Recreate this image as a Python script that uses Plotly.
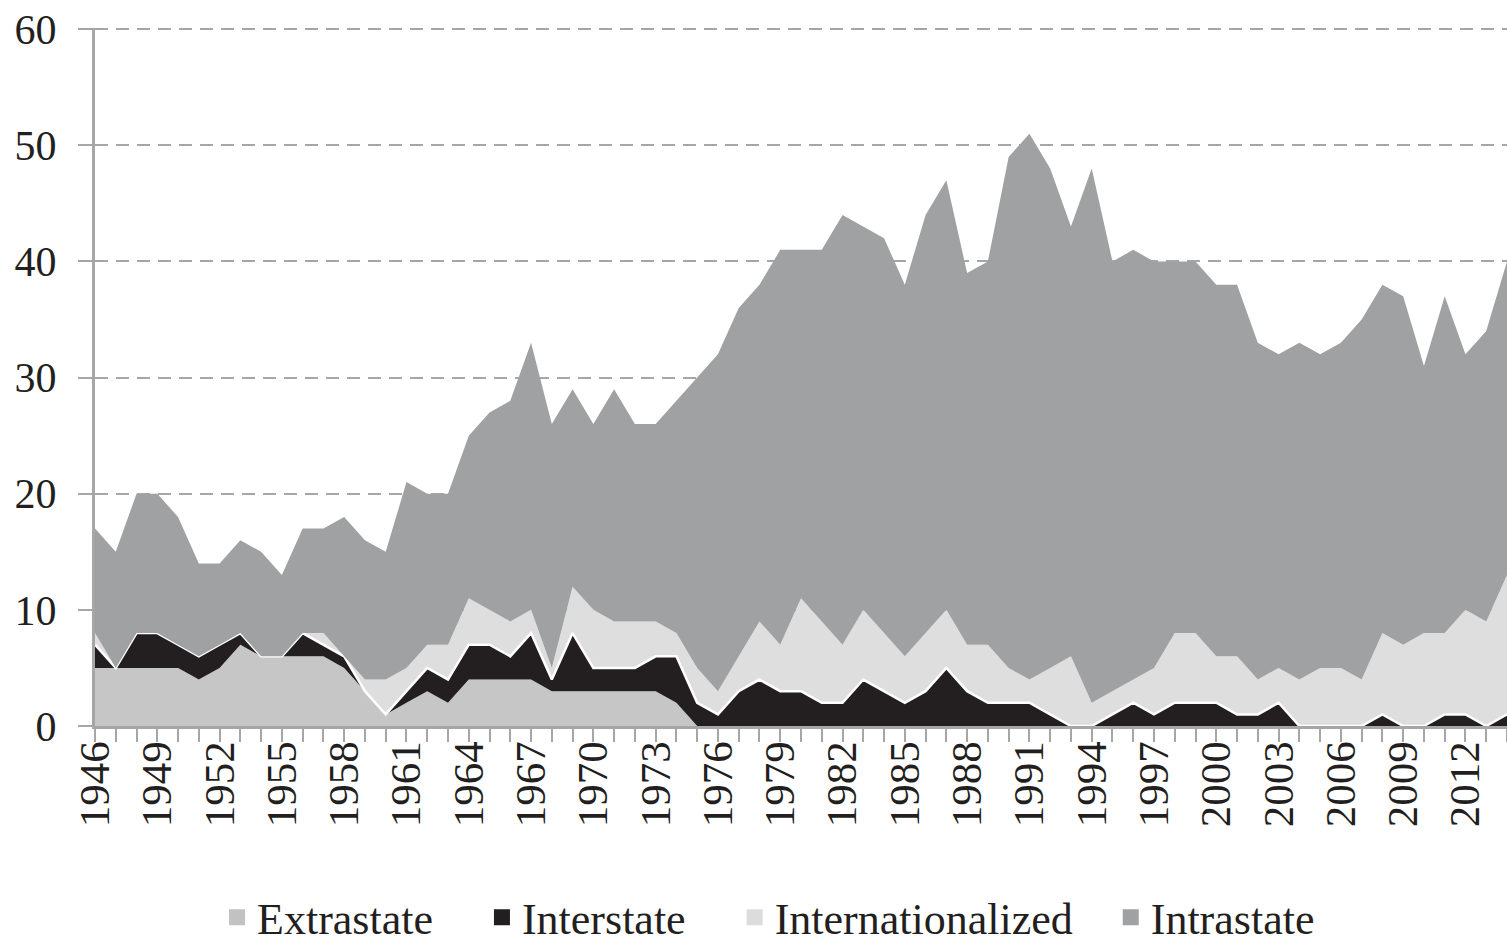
import plotly.graph_objects as go

years = list(range(1946, 2015))

total = [17, 15, 20, 20, 18, 14, 14, 16, 15, 13,
         17, 17, 18, 16, 15, 21, 20, 20, 25, 27,
         28, 33, 26, 29, 26, 29, 26, 26, 28, 30,
         32, 36, 38, 41, 41, 41, 44, 43, 42, 38,
         44, 47, 39, 40, 49, 51, 48, 43, 48, 40,
         41, 40, 40, 40, 38, 38, 33, 32, 33, 32,
         33, 35, 38, 37, 31, 37, 32, 34, 40]

extrastate = [5, 5, 5, 5, 5, 4, 5, 7, 6, 6,
              6, 6, 5, 3, 1, 2, 3, 2, 4, 4,
              4, 4, 3, 3, 3, 3, 3, 3, 2, 0,
              0, 0, 0, 0, 0, 0, 0, 0, 0, 0,
              0, 0, 0, 0, 0, 0, 0, 0, 0, 0,
              0, 0, 0, 0, 0, 0, 0, 0, 0, 0,
              0, 0, 0, 0, 0, 0, 0, 0, 0]

interstate = [2, 0, 3, 3, 2, 2, 2, 1, 0, 0,
              2, 1, 1, 0, 0, 1, 2, 2, 3, 3,
              2, 4, 1, 5, 2, 2, 2, 3, 4, 2,
              1, 3, 4, 3, 3, 2, 2, 4, 3, 2,
              3, 5, 3, 2, 2, 2, 1, 0, 0, 1,
              2, 1, 2, 2, 2, 1, 1, 2, 0, 0,
              0, 0, 1, 0, 0, 1, 1, 0, 1]

internationalized = [1, 0, 0, 0, 0, 0, 0, 0, 0, 0,
                     0, 1, 0, 1, 3, 2, 2, 3, 4, 3,
                     3, 2, 1, 4, 5, 4, 4, 3, 2, 3,
                     2, 3, 5, 4, 8, 7, 5, 6, 5, 4,
                     5, 5, 4, 5, 3, 2, 4, 6, 2, 2,
                     2, 4, 6, 6, 4, 5, 3, 3, 4, 5,
                     5, 4, 7, 7, 8, 7, 9, 9, 12]

intrastate = [t - e - i - n for t, e, i, n in
              zip(total, extrastate, interstate, internationalized)]

label_years = [1946, 1949, 1952, 1955, 1958, 1961, 1964, 1967, 1970, 1973,
               1976, 1979, 1982, 1985, 1988, 1991, 1994, 1997, 2000, 2003,
               2006, 2009, 2012]

FONT = "Liberation Serif"
AXIS_GRAY = "#a6a6a6"
TEXT = "#231f20"
NBSP = "\u00a0"

fig = go.Figure()
series = [
    ("Extrastate", extrastate, "#c6c6c6", "#c2c2c2", 0, 4),
    ("Interstate", interstate, "#231f20", "#231f20", 2.5, 4),
    ("Internationalized", internationalized, "#dedede", "#dcdcdc", 0, 3),
    ("Intrastate", intrastate, "#a0a1a3", "#a0a1a3", 0, 0),
]
for name, vals, color, legcolor, lw, pad in series:
    fig.add_trace(go.Scatter(
        x=years, y=vals, name=name, mode="lines",
        stackgroup="one", fillcolor=color,
        line=dict(color="white" if lw else color, width=lw, shape="linear"),
        hoverinfo="skip", showlegend=False,
    ))
for name, vals, color, legcolor, lw, pad in series:
    fig.add_trace(go.Scatter(
        x=[None], y=[None], name=name + NBSP * pad, mode="markers",
        marker=dict(symbol="square", size=22, color=legcolor,
                    line=dict(width=0)),
        showlegend=True, hoverinfo="skip",
    ))

fig.update_xaxes(
    range=[1946, 2014],
    tickvals=label_years, ticktext=[str(y) for y in label_years],
    tickangle=-90,
    ticks="outside", ticklen=13, tickwidth=2, tickcolor=AXIS_GRAY,
    showline=True, linecolor=AXIS_GRAY, linewidth=3,
    showgrid=False, zeroline=False, automargin=False,
    ticklabelstandoff=-18,
    minor=dict(dtick=1, tick0=1946, ticks="outside", ticklen=13,
               tickwidth=2, tickcolor=AXIS_GRAY, showgrid=False),
    tickfont=dict(family=FONT, size=43, color=TEXT),
)
fig.update_yaxes(
    range=[0, 60.1], tickvals=[0, 10, 20, 30, 40, 50, 60],
    showgrid=True, gridcolor=AXIS_GRAY, gridwidth=2, griddash="13px,8px",
    showline=True, linecolor=AXIS_GRAY, linewidth=3,
    ticks="outside", ticklen=14, tickwidth=2, tickcolor=AXIS_GRAY,
    zeroline=False, automargin=False,
    ticklabelstandoff=13,
    tickfont=dict(family=FONT, size=42, color=TEXT),
)

fig.update_layout(
    width=1507, height=947,
    margin=dict(l=95, r=0, t=28, b=221, autoexpand=False),
    plot_bgcolor="white", paper_bgcolor="white",
    legend=dict(
        orientation="h", x=0.477, xanchor="center",
        yref="container", y=0.031, yanchor="middle",
        font=dict(family=FONT, size=44, color=TEXT),
        itemwidth=30, traceorder="normal",
    ),
    showlegend=True,
)

fig.write_html(
    "out.html",
    config={"displayModeBar": False},
    post_script="document.body.style.margin='0';"
                "document.body.style.overflow='hidden';",
)
